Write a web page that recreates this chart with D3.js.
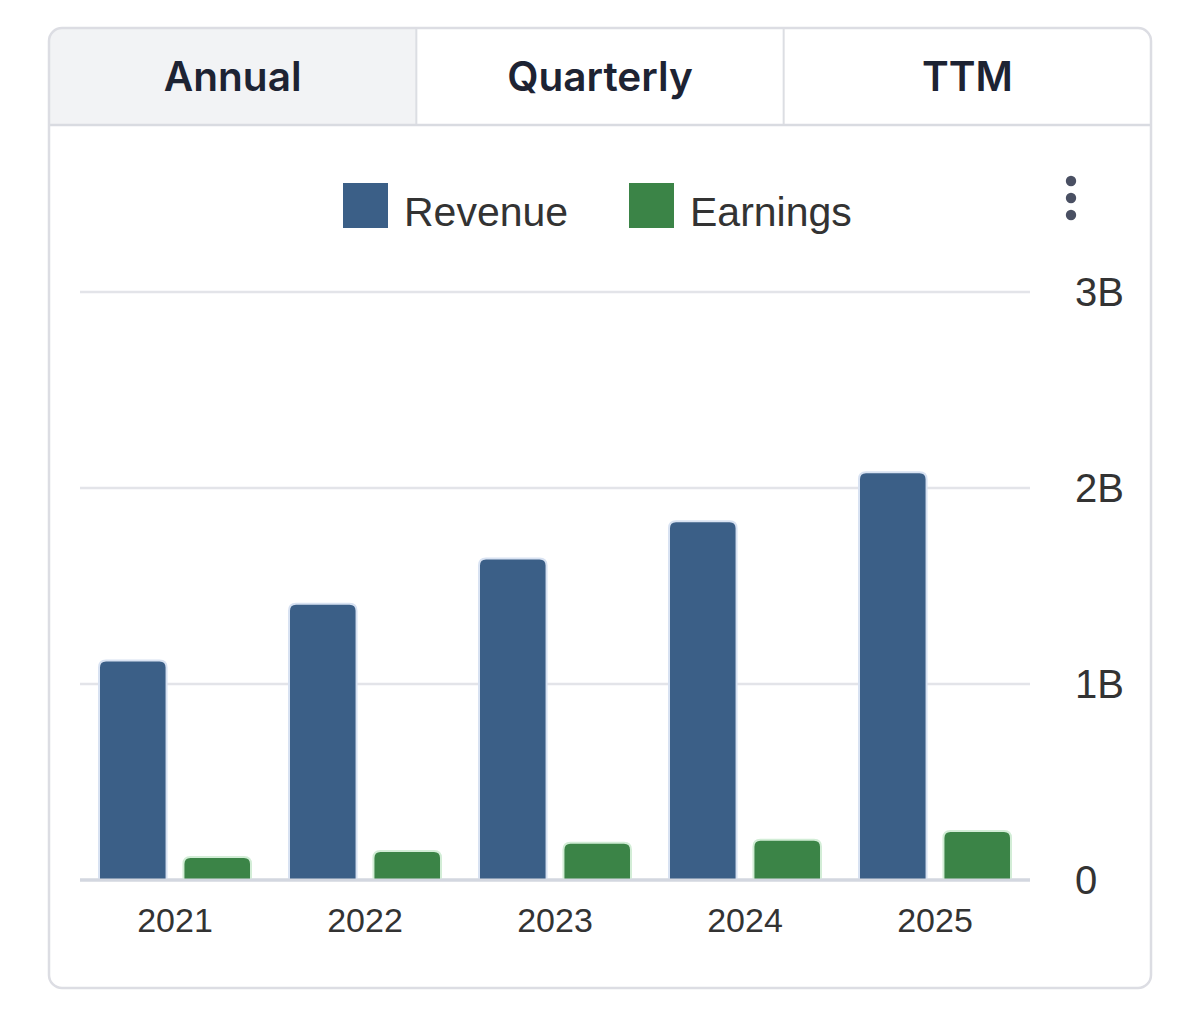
<!DOCTYPE html>
<html>
  <head>
    <meta charset="utf-8">
    <script src="https://d3js.org/d3.v7.min.js"></script>
    <title>Revenue and Earnings</title>
    <style>
      body { margin: 0; background: #fff; }
      .tab-label { font-family: Inter, "Noto Sans", sans-serif; font-weight: 600; font-size: 40.5px; fill: #1d2333; }
      .legend-label { font-family: "Liberation Sans", Arial, sans-serif; font-size: 41px; fill: #333; }
      .y-label { font-family: "Liberation Sans", Arial, sans-serif; font-size: 40px; fill: #333; }
      .x-label { font-family: "Liberation Sans", Arial, sans-serif; font-size: 34px; fill: #333; }
    </style>
  </head>
  <body>
    <svg width="1200" height="1012"></svg>
    <script>
      // data, in billions
      const years = ['2021', '2022', '2023', '2024', '2025'];
      const revenue = [1.12, 1.41, 1.64, 1.83, 2.08];
      const earnings = [0.117, 0.148, 0.19, 0.205, 0.25];
      const seriesNames = ['Revenue', 'Earnings'];
      const seriesColors = ['#3b5f87', '#3b8447'];
      const seriesStroke = ['#d8e2f2', '#d2edd6'];
      const tabs = ['Annual', 'Quarterly', 'TTM'];
      const yTicks = [0, 1, 2, 3];
      const yTickLabels = ['0', '1B', '2B', '3B'];

      const svg = d3.select('svg');

      // card + tabs
      const card = { x: 49, y: 28, w: 1102, h: 960, r: 13 };
      const tabH = 97;
      svg.append('defs').append('clipPath').attr('id', 'cardclip')
        .append('rect').attr('x', card.x).attr('y', card.y)
        .attr('width', card.w).attr('height', card.h).attr('rx', card.r);

      const tabScale = d3.scaleBand().domain(tabs).range([card.x, card.x + card.w]);
      const tabG = svg.append('g').attr('clip-path', 'url(#cardclip)');
      tabG.selectAll('rect').data(tabs).enter().append('rect')
        .attr('x', d => tabScale(d))
        .attr('y', card.y)
        .attr('width', tabScale.bandwidth())
        .attr('height', tabH)
        .attr('fill', (d, i) => i === 0 ? '#f2f3f5' : '#fff');
      tabG.selectAll('line.div').data(tabs.slice(1)).enter().append('line')
        .attr('x1', d => tabScale(d)).attr('x2', d => tabScale(d))
        .attr('y1', card.y).attr('y2', card.y + tabH)
        .attr('stroke', '#dcdee3').attr('stroke-width', 2);
      tabG.append('line')
        .attr('x1', card.x).attr('x2', card.x + card.w)
        .attr('y1', card.y + tabH).attr('y2', card.y + tabH)
        .attr('stroke', '#d9dbe1').attr('stroke-width', 2.5);
      svg.selectAll('text.tab').data(tabs).enter().append('text')
        .attr('class', 'tab-label')
        .attr('x', d => tabScale(d) + tabScale.bandwidth() / 2)
        .attr('y', card.y + tabH / 2)
        .attr('text-anchor', 'middle')
        .attr('dominant-baseline', 'central')
        .text(d => d);
      svg.append('rect')
        .attr('x', card.x).attr('y', card.y)
        .attr('width', card.w).attr('height', card.h).attr('rx', card.r)
        .attr('fill', 'none').attr('stroke', '#dcdde3').attr('stroke-width', 2.5);

      // legend
      const legendX = [343, 629];
      const legend = svg.selectAll('g.legend').data(seriesNames).enter().append('g')
        .attr('transform', (d, i) => `translate(${legendX[i]},183)`);
      legend.append('rect').attr('width', 45).attr('height', 45)
        .attr('fill', (d, i) => seriesColors[i]);
      legend.append('text').attr('class', 'legend-label')
        .attr('x', 61).attr('y', 43).text(d => d);

      // menu dots
      svg.selectAll('circle.dot').data([181, 198, 215]).enter().append('circle')
        .attr('cx', 1071).attr('cy', d => d).attr('r', 5.2).attr('fill', '#4a5063');

      // chart
      const x0 = d3.scaleBand().domain(years).range([80, 1030])
        .paddingInner(0.2).paddingOuter(0.1);
      const x1 = d3.scaleBand().domain(seriesNames).range([0, x0.bandwidth()])
        .paddingInner(0.2);
      const y = d3.scaleLinear().domain([0, 3]).range([880, 292]);

      const grid = svg.append('g');
      grid.selectAll('line').data(yTicks).enter().append('line')
        .attr('x1', 80).attr('x2', 1030)
        .attr('y1', d => y(d)).attr('y2', d => y(d))
        .attr('stroke', d => d === 0 ? '#d3d7e0' : '#e3e4e9')
        .attr('stroke-width', d => d === 0 ? 3 : 2.5);
      grid.selectAll('text').data(yTicks).enter().append('text')
        .attr('class', 'y-label')
        .attr('x', 1075).attr('y', d => y(d))
        .attr('dominant-baseline', 'central')
        .text((d, i) => yTickLabels[i]);

      const barPath = (bx, by, bw, bh, r) => {
        r = Math.min(r, bh, bw / 2);
        return `M${bx},${by + bh} V${by + r} Q${bx},${by} ${bx + r},${by} H${bx + bw - r} Q${bx + bw},${by} ${bx + bw},${by + r} V${by + bh} Z`;
      };

      const rows = years.map((yr, i) => ({ year: yr, values: [revenue[i], earnings[i]] }));
      const groups = svg.selectAll('g.year').data(rows).enter().append('g')
        .attr('transform', d => `translate(${x0(d.year)},0)`);
      groups.selectAll('path').data(d => d.values.map((v, i) => ({ key: seriesNames[i], v, i })))
        .enter().append('path')
        .attr('d', d => barPath(x1(d.key), y(d.v), x1.bandwidth(), y(0) - y(d.v), 7))
        .attr('fill', d => seriesColors[d.i])
        .attr('stroke', d => seriesStroke[d.i])
        .attr('stroke-width', 2);

      svg.append('g').selectAll('text').data(years).enter().append('text')
        .attr('class', 'x-label')
        .attr('x', d => x0(d) + x0.bandwidth() / 2)
        .attr('y', 920)
        .attr('text-anchor', 'middle')
        .attr('dominant-baseline', 'central')
        .text(d => d);

      // redraw baseline on top of bar bottoms
      svg.append('line')
        .attr('x1', 80).attr('x2', 1030).attr('y1', y(0)).attr('y2', y(0))
        .attr('stroke', '#d3d7e0').attr('stroke-width', 3);
    </script>
  </body>
</html>
